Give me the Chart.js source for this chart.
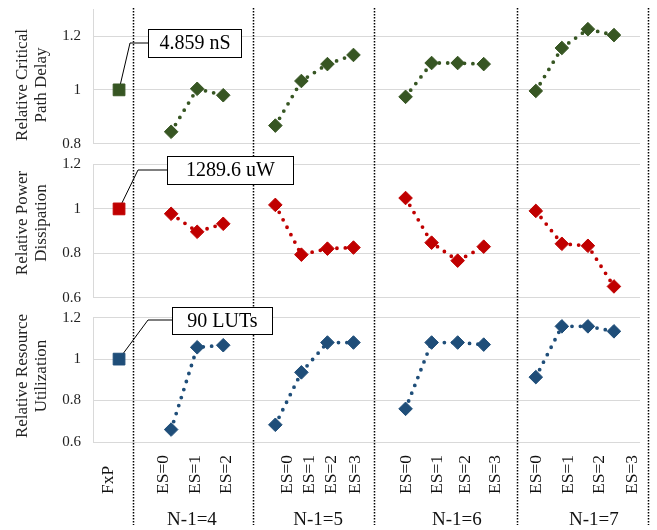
<!DOCTYPE html>
<html><head><meta charset="utf-8">
<script src="https://cdn.jsdelivr.net/npm/chart.js@4"></script>
<style>html,body{margin:0;padding:0;background:#fff}#wrap{width:657px;height:530px;position:relative}</style>
</head><body><div id="wrap"><canvas id="c" width="657" height="530"></canvas></div>
<script>
// ---------------- data ----------------
const groupNames = ['N-1=4', 'N-1=5', 'N-1=6', 'N-1=7'];
const esLabels = [
  ['ES=0', 'ES=1', 'ES=2'],
  ['ES=0', 'ES=1', 'ES=2', 'ES=3'],
  ['ES=0', 'ES=1', 'ES=2', 'ES=3'],
  ['ES=0', 'ES=1', 'ES=2', 'ES=3']
];
const baselineLabel = 'FxP';
const delay    = [[0.844, 1.004, 0.980], [0.867, 1.033, 1.096, 1.130], [0.974, 1.100, 1.100, 1.096], [0.996, 1.156, 1.226, 1.204]];
const power    = [[0.978, 0.897, 0.933], [1.018, 0.794, 0.821, 0.826], [1.049, 0.848, 0.767, 0.830], [0.991, 0.843, 0.834, 0.651]];
const resource = [[0.660, 1.057, 1.067], [0.683, 0.936, 1.080, 1.080], [0.760, 1.080, 1.080, 1.070], [0.913, 1.158, 1.158, 1.134]];
const fxpDelay = 1, fxpPower = 1, fxpResource = 1;
const calloutTexts = ['4.859 nS', '1289.6 uW', '90 LUTs'];
const panelTitles = [['Relative Critical', 'Path Delay'], ['Relative Power', 'Dissipation'], ['Relative Resource', 'Utilization']];
const ticksDelay = [0.8, 1, 1.2];
const ticksPower = [0.6, 0.8, 1, 1.2];
const ticksResource = [0.6, 0.8, 1, 1.2];

// ---------------- layout (not data) ----------------
const FONT = 'Liberation Serif';
const colors = { delay: '#375623', power: '#C00000', resource: '#1F4E79' };
const xLabelPos = [0.58, 2.69, 3.92, 5.14, 7.45, 8.29, 9.17, 10.06, 12.05, 13.24, 14.28, 15.43, 17.04, 18.27, 19.46, 20.69];
const groupLabelPos = [3.80, 8.64, 13.97, 19.23];
const separatorPos = [1.54, 6.14, 10.79, 16.28, 21.3];
const titleCenters = [85, 223, 376];
const callouts = [
  { box: [148, 29, 93, 28], elbow: [130, 43] },
  { box: [167, 156, 126, 28], elbow: [138, 170] },
  { box: [172, 307, 100, 27], elbow: [148, 320] }
];

// ---------------- build ----------------
const labels = ['', baselineLabel, ''];
const groupIdx = [];
esLabels.forEach(g => {
  const idx = [];
  g.forEach(l => { idx.push(labels.length); labels.push(l); });
  groupIdx.push(idx);
  labels.push('');
});
function series(vals) {
  const arr = labels.map(() => null);
  vals.forEach((g, gi) => g.forEach((v, i) => { arr[groupIdx[gi][i]] = v; }));
  return arr;
}
function baseline(v) {
  const arr = labels.map(() => null);
  arr[labels.indexOf(baselineLabel)] = v;
  return arr;
}
function lineDs(data, color, axis) {
  return {
    data, yAxisID: axis, borderColor: color, backgroundColor: color,
    borderWidth: 3.8, borderDash: [0, 8.4], borderCapStyle: 'round',
    pointStyle: 'rectRot', pointRadius: 6.8, pointBorderWidth: 1,
    pointBorderColor: color, pointBackgroundColor: color,
    spanGaps: false, clip: false, tension: 0
  };
}
function fxpDs(data, color, axis) {
  return {
    data, yAxisID: axis, showLine: false, borderColor: color, backgroundColor: color,
    pointStyle: 'rect', pointRadius: 8.3, pointBorderWidth: 1,
    pointBorderColor: color, pointBackgroundColor: color, clip: false
  };
}
function fixFit(s) {
  s.width = 93;
  s.paddingTop = 0; s.paddingBottom = 0; s.paddingLeft = 0; s.paddingRight = 0;
}
function yAxis(min, max, tickVals, weight) {
  return {
    type: 'linear', position: 'left', stack: 'v', stackWeight: weight,
    min, max,
    afterBuildTicks: s => { s.ticks = tickVals.map(v => ({ value: v })); },
    afterFit: fixFit,
    grid: { color: '#d9d9d9', lineWidth: 1, drawTicks: false },
    border: { display: true, color: '#d9d9d9', width: 1 },
    ticks: { padding: 12, autoSkip: false, color: '#222', font: { family: FONT, size: 15 }, callback: v => String(v) }
  };
}
function spacer(weight) {
  return {
    type: 'linear', position: 'left', stack: 'v', stackWeight: weight,
    afterFit: fixFit,
    grid: { display: false }, border: { display: false }, ticks: { display: false }
  };
}

const decorPlugin = {
  id: 'decor',
  beforeDatasetsDraw(chart) {
    const ctx = chart.ctx, xs = chart.scales.x;
    ctx.save();
    ctx.strokeStyle = '#000';
    ctx.lineWidth = 1.5;
    ctx.setLineDash([1.5, 1.5]);
    separatorPos.forEach(p => {
      const x = Math.round(xs.getPixelForValue(p)) + 0.5;
      ctx.beginPath(); ctx.moveTo(x, 8); ctx.lineTo(x, 525); ctx.stroke();
    });
    ctx.setLineDash([]);
    ctx.lineWidth = 1;
    [1, 3, 5].forEach((dsIndex, i) => {
      const pt = chart.getDatasetMeta(dsIndex).data[labels.indexOf(baselineLabel)];
      const c = callouts[i];
      ctx.beginPath();
      ctx.moveTo(pt.x, pt.y);
      ctx.lineTo(c.elbow[0], c.elbow[1]);
      ctx.lineTo(c.box[0], c.elbow[1]);
      ctx.stroke();
    });
    ctx.restore();
  },
  afterDraw(chart) {
    const ctx = chart.ctx, xs = chart.scales.x;
    ctx.save();
    callouts.forEach((c, i) => {
      const [bx, by, bw, bh] = c.box;
      ctx.fillStyle = '#fff';
      ctx.fillRect(bx, by, bw, bh);
      ctx.strokeStyle = '#000';
      ctx.lineWidth = 1;
      ctx.strokeRect(bx + 0.5, by + 0.5, bw, bh);
      ctx.fillStyle = '#000';
      ctx.font = '20px "' + FONT + '"';
      ctx.textAlign = 'center';
      ctx.textBaseline = 'middle';
      ctx.fillText(calloutTexts[i], bx + bw / 2 + 0.5, by + bh / 2 + 1);
    });
    ctx.fillStyle = '#222';
    ctx.font = '17px "' + FONT + '"';
    ctx.textAlign = 'center';
    ctx.textBaseline = 'middle';
    panelTitles.forEach((lines, i) => {
      lines.forEach((t, li) => {
        ctx.save();
        ctx.translate(23 + li * 19, titleCenters[i]);
        ctx.rotate(-Math.PI / 2);
        ctx.fillText(t, 0, 0);
        ctx.restore();
      });
    });
    const catLabels = labels.filter(l => l !== '');
    ctx.fillStyle = '#111';
    ctx.font = '17.5px "' + FONT + '"';
    ctx.textAlign = 'left';
    catLabels.forEach((t, i) => {
      ctx.save();
      ctx.translate(xs.getPixelForValue(xLabelPos[i]), 494);
      ctx.rotate(-Math.PI / 2);
      ctx.fillText(t, 0, 0);
      ctx.restore();
    });
    ctx.font = '19px "' + FONT + '"';
    ctx.textAlign = 'center';
    groupNames.forEach((t, i) => {
      ctx.fillText(t, xs.getPixelForValue(groupLabelPos[i]), 520);
    });
    ctx.restore();
  }
};

Chart.defaults.font.family = FONT;
new Chart(document.getElementById('c'), {
  type: 'line',
  data: {
    labels,
    datasets: [
      lineDs(series(delay), colors.delay, 'yDelay'),
      fxpDs(baseline(fxpDelay), colors.delay, 'yDelay'),
      lineDs(series(power), colors.power, 'yPower'),
      fxpDs(baseline(fxpPower), colors.power, 'yPower'),
      lineDs(series(resource), colors.resource, 'yRes'),
      fxpDs(baseline(fxpResource), colors.resource, 'yRes')
    ]
  },
  options: {
    responsive: false,
    animation: false,
    layout: { padding: { left: 0, top: 7, right: 17, bottom: 88 } },
    plugins: { legend: { display: false }, tooltip: { enabled: false } },
    scales: {
      x: { type: 'category', display: false, offset: false },
      // left-positioned stacked axes are laid out bottom-first, so list bottom panel first
      yRes: yAxis(0.6, 1.2, ticksResource, 125),
      gapB: spacer(20),
      yPower: yAxis(0.6, 1.2, ticksPower, 134),
      gapA: spacer(21),
      yDelay: yAxis(0.8, 1.3, ticksDelay, 135)
    }
  },
  plugins: [decorPlugin]
});
</script>
</body></html>
